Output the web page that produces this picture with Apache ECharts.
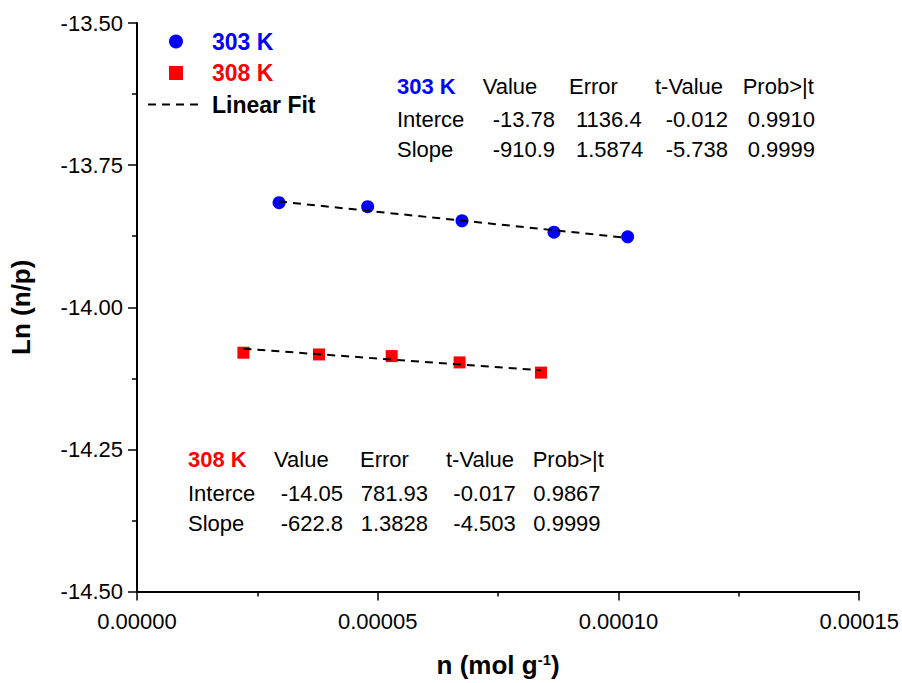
<!DOCTYPE html>
<html>
<head>
<meta charset="utf-8">
<script src="https://cdn.jsdelivr.net/npm/echarts@6/dist/echarts.min.js"></script>
<style>
html,body{margin:0;padding:0;background:#fff;}
#chart{width:902px;height:683px;}
</style>
</head>
<body>
<div id="chart"></div>
<script>
// ---- data ----
const n303  = [0.0000295, 0.0000479, 0.0000675, 0.0000866, 0.0001019];
const ln303 = [-13.816, -13.823, -13.848, -13.868, -13.876];
const n308  = [0.0000221, 0.0000378, 0.0000529, 0.0000670, 0.0000839];
const ln308 = [-14.080, -14.083, -14.086, -14.097, -14.115];
const fit303N  = [0.0000295, 0.0001019];
const fit303Ln = [-13.814, -13.878];
const fit308N  = [0.0000221, 0.0000839];
const fit308Ln = [-14.073, -14.111];

const xTicks = [0, 0.00005, 0.00010, 0.00015];
const yTicks = [-14.50, -14.25, -14.00, -13.75, -13.50];

const tableHeader = ['Value', 'Error', 't-Value', 'Prob>|t'];
const rowLabels = ['Interce', 'Slope'];
const stats303 = [['-13.78', '1136.4', '-0.012', '0.9910'], ['-910.9', '1.5874', '-5.738', '0.9999']];
const stats308 = [['-14.05', '781.93', '-0.017', '0.9867'], ['-622.8', '1.3828', '-4.503', '0.9999']];

// ---- layout (not data) ----
const FONT = 'Arial, "Liberation Sans", sans-serif';
const layout303 = {title: '303 K', color: '#0000ff', x0: 397, head: [482.7, 569, 655, 742.7], cols: [492.7, 576, 665.7, 747.7], rows: [86, 119.5, 149.5], stats: stats303};
const layout308 = {title: '308 K', color: '#ff0000', x0: 188, head: [274, 360, 446, 532.7], cols: [280.7, 360.7, 453.3, 533.3], rows: [459.5, 493, 523.5], stats: stats308};

function zip(a, b) { return a.map((v, i) => [v, b[i]]); }

function tableGraphics(t) {
  const els = [];
  const base = {fontSize: 22, fontFamily: FONT, verticalAlign: 'middle', align: 'left'};
  els.push({type: 'text', x: t.x0, y: t.rows[0], style: Object.assign({}, base, {text: t.title, fill: t.color, fontWeight: 'bold'})});
  tableHeader.forEach((h, i) => els.push({type: 'text', x: t.head[i], y: t.rows[0], style: Object.assign({}, base, {text: h, fill: '#000'})}));
  rowLabels.forEach((r, ri) => {
    els.push({type: 'text', x: t.x0, y: t.rows[ri + 1], style: Object.assign({}, base, {text: r, fill: '#000'})});
    t.stats[ri].forEach((v, ci) => els.push({type: 'text', x: t.cols[ci], y: t.rows[ri + 1], style: Object.assign({}, base, {text: v, fill: '#000'})}));
  });
  return els;
}

const chart = echarts.init(document.getElementById('chart'), null, {renderer: 'svg'});
const axisCommon = {
  axisLine: {show: true, onZero: false, lineStyle: {color: '#000', width: 2}},
  axisTick: {show: true, inside: false, length: 9, lineStyle: {color: '#000', width: 1.5}},
  minorTick: {show: true, splitNumber: 2, length: 5, lineStyle: {color: '#000', width: 1.5}},
  splitLine: {show: false},
  minorSplitLine: {show: false}
};
const fitLine = {color: '#000', width: 2, type: [8, 6]};
const squareIcon = 'path://M0,0L10,0L10,10L0,10Z';

chart.setOption({
  backgroundColor: '#fff',
  animation: false,
  grid: {left: 135, right: 42, top: 23, bottom: 88, containLabel: false},
  legend: {
    orient: 'vertical', left: 142, top: 25, itemWidth: 56, itemHeight: 14, itemGap: 8.5,
    symbolKeepAspect: true,
    textStyle: {fontSize: 23, fontWeight: 'bold', fontFamily: FONT, padding: [0, 0, 0, 3]},
    data: [
      {name: '303 K', icon: 'circle', textStyle: {color: '#0000ff'}},
      {name: '308 K', icon: squareIcon, itemStyle: {color: '#ff0000'}, textStyle: {color: '#ff0000'}},
      {name: 'Linear Fit', textStyle: {color: '#000'},
       itemStyle: {color: 'rgba(0,0,0,0)', borderColor: 'rgba(0,0,0,0)', opacity: 0},
       lineStyle: fitLine}
    ]
  },
  xAxis: Object.assign({
    type: 'value', min: xTicks[0], max: xTicks[xTicks.length - 1], interval: xTicks[1] - xTicks[0],
    name: 'n (mol g{sup|-1})', nameLocation: 'middle', nameGap: 60,
    nameTextStyle: {fontSize: 26, fontWeight: 'bold', fontFamily: FONT, color: '#000',
      rich: {sup: {fontSize: 15, fontWeight: 'bold', fontFamily: FONT, verticalAlign: 'top', padding: [0, 0, 12, 0]}}},
    axisLabel: {fontSize: 22, fontFamily: FONT, color: '#000', margin: 19, formatter: v => v.toFixed(5)}
  }, axisCommon),
  yAxis: Object.assign({
    type: 'value', min: yTicks[0], max: yTicks[yTicks.length - 1], interval: yTicks[1] - yTicks[0],
    name: 'Ln (n/p)', nameLocation: 'middle', nameGap: 103, nameRotate: 90,
    nameTextStyle: {fontSize: 26, fontWeight: 'bold', fontFamily: FONT, color: '#000'},
    axisLabel: {fontSize: 22, fontFamily: FONT, color: '#000', margin: 14, formatter: v => v.toFixed(2)}
  }, axisCommon),
  series: [
    {name: '303 K', type: 'scatter', symbol: 'circle', symbolSize: 13, itemStyle: {color: '#0000ff', opacity: 1}, data: zip(n303, ln303), z: 2},
    {name: '308 K', type: 'scatter', symbol: 'rect', symbolSize: 12, itemStyle: {color: '#ff0000', opacity: 1}, data: zip(n308, ln308), z: 2},
    {name: 'Linear Fit', type: 'line', symbol: 'none', lineStyle: fitLine, itemStyle: {color: '#000'}, data: zip(fit303N, fit303Ln), z: 3},
    {name: 'Linear Fit', type: 'line', symbol: 'none', lineStyle: fitLine, itemStyle: {color: '#000'}, data: zip(fit308N, fit308Ln), z: 3}
  ],
  graphic: tableGraphics(layout303).concat(tableGraphics(layout308))
});
</script>
</body>
</html>
